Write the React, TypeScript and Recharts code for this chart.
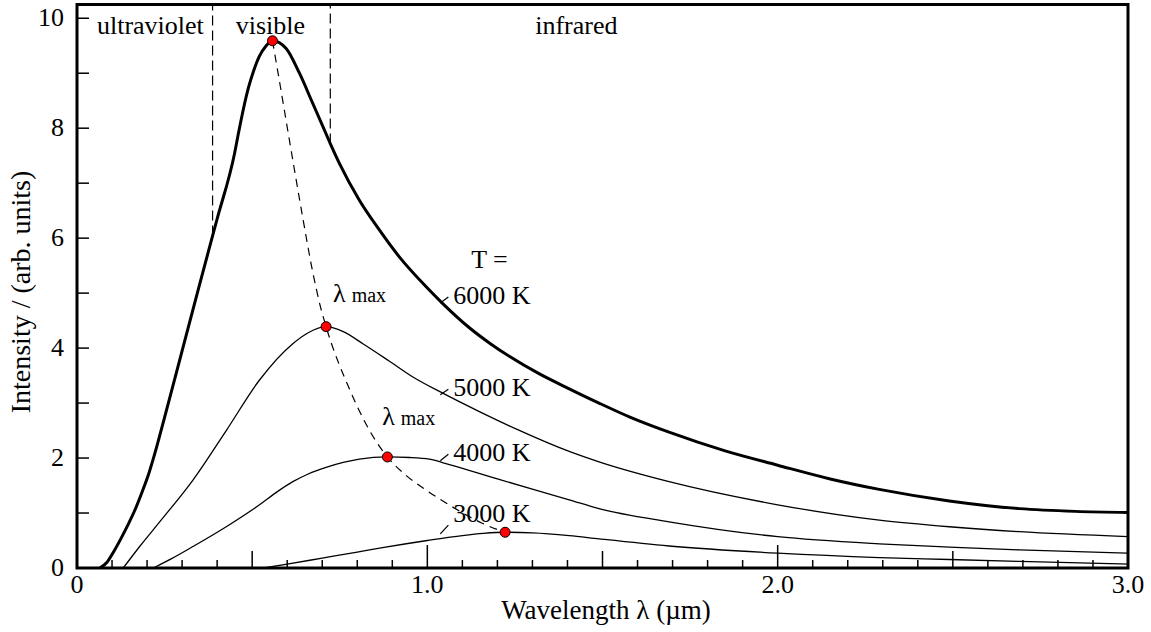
import {
  ComposedChart,
  Line,
  XAxis,
  YAxis,
  ReferenceArea,
  ReferenceLine,
  ReferenceDot,
} from "recharts";

const FONT = "'Liberation Serif', 'Times New Roman', serif";

// wavelength (µm) and intensity, one pair of arrays per temperature
const wl6000 = [0.065, 0.085, 0.105, 0.125, 0.145, 0.165, 0.185, 0.205, 0.222, 0.25, 0.3, 0.35, 0.4, 0.45, 0.46, 0.475, 0.49, 0.505, 0.52, 0.54, 0.558, 0.597, 0.635, 0.673, 0.702, 0.723, 0.749, 0.806, 0.863, 0.92, 0.996, 1.044, 1.12, 1.18, 1.234, 1.32, 1.405, 1.49, 1.58, 1.69, 1.85, 2.0, 2.15, 2.29, 2.49, 2.69, 2.85, 3.0];
const int6000 = [0, 0.1, 0.3, 0.53, 0.78, 1.05, 1.37, 1.72, 2.08, 2.74, 3.95, 5.16, 6.35, 7.55, 7.88, 8.35, 8.75, 9.06, 9.3, 9.5, 9.59, 9.45, 9.0, 8.45, 8.03, 7.72, 7.36, 6.69, 6.15, 5.66, 5.12, 4.81, 4.37, 4.08, 3.85, 3.53, 3.26, 3.0, 2.74, 2.47, 2.13, 1.87, 1.62, 1.43, 1.22, 1.08, 1.03, 1.01];

const wl5000 = [0.132, 0.18, 0.24, 0.331, 0.426, 0.521, 0.616, 0.66, 0.711, 0.76, 0.816, 0.89, 0.96, 1.044, 1.15, 1.253, 1.405, 1.49, 1.69, 2.0, 2.29, 2.49, 2.69, 3.0];
const int5000 = [0, 0.4, 0.87, 1.6, 2.5, 3.42, 4.08, 4.28, 4.39, 4.3, 4.08, 3.77, 3.47, 3.18, 2.84, 2.53, 2.12, 1.93, 1.57, 1.15, 0.87, 0.75, 0.66, 0.57];

const wl4000 = [0.218, 0.27, 0.331, 0.426, 0.521, 0.57, 0.616, 0.66, 0.711, 0.76, 0.806, 0.886, 0.95, 1.006, 1.063, 1.2, 1.405, 1.49, 1.69, 2.0, 2.29, 2.49, 2.69, 3.0];
const int4000 = [0, 0.17, 0.39, 0.75, 1.15, 1.38, 1.57, 1.71, 1.83, 1.92, 1.98, 2.02, 2.01, 1.98, 1.88, 1.62, 1.24, 1.08, 0.84, 0.57, 0.44, 0.38, 0.33, 0.27];

const wl3000 = [0.533, 0.6, 0.7, 0.8, 0.872, 1.0, 1.1, 1.16, 1.222, 1.3, 1.405, 1.49, 1.69, 2.0, 2.29, 2.49, 2.69, 3.0];
const int3000 = [0, 0.07, 0.18, 0.29, 0.37, 0.5, 0.59, 0.63, 0.65, 0.64, 0.59, 0.53, 0.4, 0.27, 0.19, 0.155, 0.12, 0.07];

// dashed line through the maxima
const wlMax = [0.558, 0.578, 0.6, 0.62, 0.645, 0.673, 0.695, 0.711, 0.778, 0.82, 0.854, 0.886, 0.94, 0.996, 1.08, 1.158, 1.222];
const intMax = [9.59, 8.85, 8.02, 7.27, 6.35, 5.38, 4.75, 4.39, 3.25, 2.68, 2.3, 2.02, 1.68, 1.42, 1.08, 0.81, 0.65];

const peakWl = [0.558, 0.711, 0.886, 1.222];
const peakInt = [9.59, 4.39, 2.02, 0.65];

const xTicks = [0, 0.1, 0.2, 0.3, 0.4, 0.5, 0.6, 0.7, 0.8, 0.9, 1, 1.1, 1.2, 1.3, 1.4, 1.5, 1.6, 1.7, 1.8, 1.9, 2, 2.1, 2.2, 2.3, 2.4, 2.5, 2.6, 2.7, 2.8, 2.9, 3];
const xLabels: Record<number, string> = { 0: "0", 1: "1.0", 2: "2.0", 3: "3.0" };
const yTicks = [0, 1, 2, 3, 4, 5, 6, 7, 8, 9, 10];
const Y_MAX = 10.25;

const tempLabels = ["6000 K", "5000 K", "4000 K", "3000 K"];
const tempLabelY = [4.8, 3.137, 1.95, 0.842];
const pointerY = [[4.82, 4.93], [3.15, 3.25], [1.95, 2.07], [0.62, 0.78]];

const zip = (xs: number[], ys: number[]) => xs.map((x, i) => ({ x, y: ys[i] }));

const XTick = (props: any) => {
  const { x, y, payload } = props;
  const r = Math.round(payload.value * 10);
  const len = r % 10 === 0 ? 23 : r % 5 === 0 ? 17 : 8;
  const label = r % 10 === 0 ? xLabels[r / 10] : null;
  return (
    <g>
      <line x1={x} y1={y} x2={x} y2={y - len} stroke="#000" strokeWidth={1.5} />
      {label && (
        <text x={x} y={y + 25} textAnchor="middle" fontFamily={FONT} fontSize={26} fill="#000">
          {label}
        </text>
      )}
    </g>
  );
};

const YTick = (props: any) => {
  const { x, y, payload } = props;
  const v = payload.value;
  return (
    <g>
      <line x1={x} y1={y} x2={x + 12} y2={y} stroke="#000" strokeWidth={1.5} />
      {v % 2 === 0 && (
        <text x={x - 13} y={y + 8} textAnchor="end" fontFamily={FONT} fontSize={26} fill="#000">
          {v}
        </text>
      )}
    </g>
  );
};

const textAt = (content: any, size = 26) => (p: any) => (
  <text x={p.cx} y={p.cy} fontFamily={FONT} fontSize={size} fill="#000">
    {content}
  </text>
);

const lambdaMax = (
  <>
    λ<tspan dx={6} fontSize={20}>max</tspan>
  </>
);

export default function App() {
  return (
    <div style={{ position: "absolute", left: 0, top: 0, background: "#fff" }}>
      <ComposedChart
        width={1151}
        height={632}
        margin={{ top: 4.5, right: 23, bottom: 0, left: 0 }}
      >
        <XAxis
          dataKey="x"
          type="number"
          domain={[0, 3]}
          ticks={xTicks}
          interval={0}
          allowDataOverflow
          height={64}
          tickSize={0}
          tickMargin={0}
          axisLine={false}
          tickLine={false}
          tick={<XTick />}
        />
        <YAxis
          type="number"
          domain={[0, Y_MAX]}
          ticks={yTicks}
          interval={0}
          allowDataOverflow
          width={77}
          tickSize={0}
          tickMargin={0}
          axisLine={false}
          tickLine={false}
          tick={<YTick />}
        />
        <ReferenceArea x1={0} x2={3} y1={0} y2={Y_MAX} fill="none" stroke="#000" strokeWidth={3} />

        <ReferenceLine segment={[{ x: 0.387, y: 6.05 }, { x: 0.387, y: Y_MAX }]} stroke="#000" strokeWidth={1.2} strokeDasharray="10 5" />
        <ReferenceLine segment={[{ x: 0.723, y: 7.72 }, { x: 0.723, y: Y_MAX }]} stroke="#000" strokeWidth={1.2} strokeDasharray="10 5" />

        <Line data={zip(wlMax, intMax)} dataKey="y" type="monotone" stroke="#000" strokeWidth={1.2} strokeDasharray="8 6" dot={false} isAnimationActive={false} />
        <Line data={zip(wl6000, int6000)} dataKey="y" type="monotone" stroke="#000" strokeWidth={3} dot={false} isAnimationActive={false} />
        <Line data={zip(wl5000, int5000)} dataKey="y" type="monotone" stroke="#000" strokeWidth={1.3} dot={false} isAnimationActive={false} />
        <Line data={zip(wl4000, int4000)} dataKey="y" type="monotone" stroke="#000" strokeWidth={1.3} dot={false} isAnimationActive={false} />
        <Line data={zip(wl3000, int3000)} dataKey="y" type="monotone" stroke="#000" strokeWidth={1.3} dot={false} isAnimationActive={false} />
        <Line
          data={zip(peakWl, peakInt)}
          dataKey="y"
          stroke="none"
          dot={{ r: 5, fill: "#ff0000", stroke: "#000", strokeWidth: 1 }}
          isAnimationActive={false}
        />

        {pointerY.map((py, i) => (
          <ReferenceLine
            key={"p" + i}
            segment={[{ x: 1.037, y: py[0] }, { x: 1.06, y: py[1] }]}
            stroke="#000"
            strokeWidth={1.2}
          />
        ))}

        <ReferenceDot x={0.057} y={9.71} r={0} shape={textAt("ultraviolet")} />
        <ReferenceDot x={0.453} y={9.71} r={0} shape={textAt("visible")} />
        <ReferenceDot x={1.308} y={9.71} r={0} shape={textAt("infrared")} />
        <ReferenceDot x={1.125} y={5.466} r={0} shape={textAt("T =")} />
        {tempLabels.map((t, i) => (
          <ReferenceDot key={t} x={1.074} y={tempLabelY[i]} r={0} shape={textAt(t)} />
        ))}
        <ReferenceDot x={0.731} y={4.84} r={0} shape={textAt(lambdaMax)} />
        <ReferenceDot x={0.871} y={2.6} r={0} shape={textAt(lambdaMax)} />
      </ComposedChart>
      <svg width={1151} height={632} style={{ position: "absolute", left: 0, top: 0, pointerEvents: "none" }}>
        <text x={606} y={619} textAnchor="middle" fontFamily={FONT} fontSize={27} fill="#000">
          Wavelength λ (µm)
        </text>
        <text
          transform="translate(30, 292) rotate(-90)"
          textAnchor="middle"
          fontFamily={FONT}
          fontSize={28}
          fill="#000"
        >
          Intensity / (arb. units)
        </text>
      </svg>
    </div>
  );
}
